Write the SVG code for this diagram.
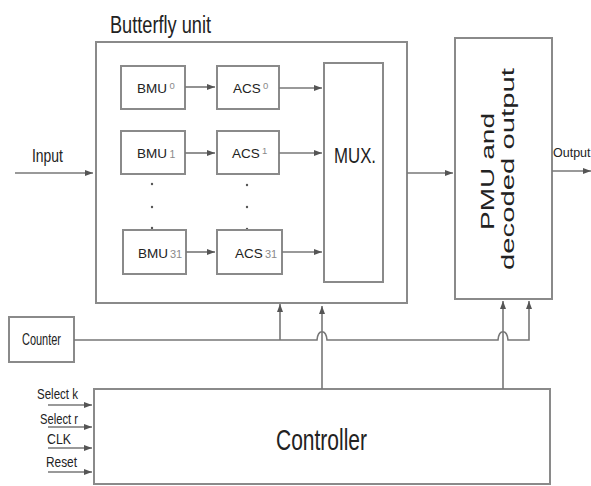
<svg xmlns="http://www.w3.org/2000/svg" width="591" height="486" viewBox="0 0 591 486">
<style>
.box{fill:#fff;stroke:#8a8a8a;stroke-width:2}
.ln{fill:none;stroke:#777;stroke-width:1.6}
.t{font-family:"Liberation Sans",Arial,sans-serif;fill:#222}
.s{font-family:"Liberation Sans",Arial,sans-serif;fill:#222;font-size:13.5px}
.d{font-family:"Liberation Sans",Arial,sans-serif;fill:#8a8a8a}
.dot{fill:#555}
</style>
<defs>
<marker id="ah" viewBox="0 0 8 6" refX="8" refY="3" markerWidth="8" markerHeight="6" orient="auto" markerUnits="userSpaceOnUse">
<path d="M0,0 L8,3 L0,6 z" fill="#555"/>
</marker>
</defs>
<rect width="591" height="486" fill="#fff"/>

<g id="butterfly">
<rect class="box" x="96" y="42" width="311" height="261"/>
<text class="t" x="110" y="33" font-size="23" textLength="101" lengthAdjust="spacingAndGlyphs">Butterfly unit</text>
</g>

<g id="bmu0">
<rect class="box" x="121" y="66" width="64" height="43"/>
<text class="s" x="137" y="93">BMU</text>
<text class="d" x="169.5" y="89" font-size="9.5">0</text>
</g>
<g id="acs0">
<rect class="box" x="217" y="66" width="62" height="43"/>
<text class="s" x="233" y="93">ACS</text>
<text class="d" x="263" y="89" font-size="9.5">0</text>
</g>
<g id="bmu1">
<rect class="box" x="121" y="131" width="64" height="43"/>
<text class="s" x="137" y="158">BMU</text>
<text class="d" x="169.5" y="158" font-size="10.5">1</text>
</g>
<g id="acs1">
<rect class="box" x="217" y="131" width="62" height="43"/>
<text class="s" x="232" y="158">ACS</text>
<text class="d" x="262" y="154" font-size="9.5">1</text>
</g>
<g id="dots">
<circle class="dot" cx="152" cy="184" r="1.2"/>
<circle class="dot" cx="152" cy="207" r="1.2"/>
<circle class="dot" cx="152" cy="228" r="1.2"/>
<circle class="dot" cx="247" cy="185" r="1.2"/>
<circle class="dot" cx="247" cy="207" r="1.2"/>
<circle class="dot" cx="247" cy="229" r="1.2"/>
</g>
<g id="bmu31">
<rect class="box" x="123" y="230" width="63" height="44"/>
<text class="s" x="138" y="258">BMU</text>
<text class="d" x="170" y="258" font-size="11">31</text>
</g>
<g id="acs31">
<rect class="box" x="217" y="230" width="65" height="44"/>
<text class="s" x="235" y="258">ACS</text>
<text class="d" x="265" y="258" font-size="11">31</text>
</g>
<g id="mux">
<rect class="box" x="324" y="63" width="59" height="219"/>
<text class="t" x="334" y="163" font-size="22" textLength="42" lengthAdjust="spacingAndGlyphs">MUX.</text>
</g>
<g id="pmu">
<rect class="box" x="455" y="38" width="97" height="261"/>
<text class="t" transform="translate(494,171.5) rotate(-90)" x="0" y="0" font-size="19" text-anchor="middle" textLength="117" lengthAdjust="spacingAndGlyphs">PMU and</text>
<text class="t" transform="translate(514,169) rotate(-90)" x="0" y="0" font-size="19" text-anchor="middle" textLength="202" lengthAdjust="spacingAndGlyphs">decoded output</text>
</g>
<g id="counter">
<rect class="box" x="9" y="317" width="65" height="45"/>
<text class="t" x="22" y="345" font-size="16" textLength="39" lengthAdjust="spacingAndGlyphs">Counter</text>
</g>
<g id="controller">
<rect class="box" x="94" y="389" width="456" height="95"/>
<text class="t" x="276" y="450" font-size="30" textLength="91" lengthAdjust="spacingAndGlyphs">Controller</text>
</g>
<g id="labels">
<text class="t" x="32" y="162" font-size="18" textLength="31" lengthAdjust="spacingAndGlyphs">Input</text>
<text class="t" x="553" y="157" font-size="12.5">Output</text>
<text class="t" x="37" y="399" font-size="15" textLength="41" lengthAdjust="spacingAndGlyphs">Select k</text>
<text class="t" x="40" y="424" font-size="15" textLength="38" lengthAdjust="spacingAndGlyphs">Select r</text>
<text class="t" x="47" y="444" font-size="15" textLength="24" lengthAdjust="spacingAndGlyphs">CLK</text>
<text class="t" x="46" y="467" font-size="15" textLength="31" lengthAdjust="spacingAndGlyphs">Reset</text>
</g>

<g id="connectors">
<path class="ln" marker-end="url(#ah)" d="M185,87 H215"/>
<path class="ln" marker-end="url(#ah)" d="M185,153 H215"/>
<path class="ln" marker-end="url(#ah)" d="M186,252 H215"/>
<path class="ln" marker-end="url(#ah)" d="M279,88 H322"/>
<path class="ln" marker-end="url(#ah)" d="M279,153 H322"/>
<path class="ln" marker-end="url(#ah)" d="M282,252 H322"/>
<path class="ln" marker-end="url(#ah)" d="M15,173 H93"/>
<path class="ln" marker-end="url(#ah)" d="M407,173 H453"/>
<path class="ln" marker-end="url(#ah)" d="M552,171 H591"/>
<path class="ln" marker-end="url(#ah)" d="M74,340 H317 C318,329 326,329 327,340 H498 C499,329 507,329 508,340 H529 V301"/>
<path class="ln" marker-end="url(#ah)" d="M280,340 V304"/>
<path class="ln" marker-end="url(#ah)" d="M322,389 V306"/>
<path class="ln" marker-end="url(#ah)" d="M503,389 V301"/>
<path class="ln" marker-end="url(#ah)" d="M48,405 H92"/>
<path class="ln" marker-end="url(#ah)" d="M48,427 H92"/>
<path class="ln" marker-end="url(#ah)" d="M48,448 H92"/>
<path class="ln" marker-end="url(#ah)" d="M48,472 H92"/>
</g>
</svg>
